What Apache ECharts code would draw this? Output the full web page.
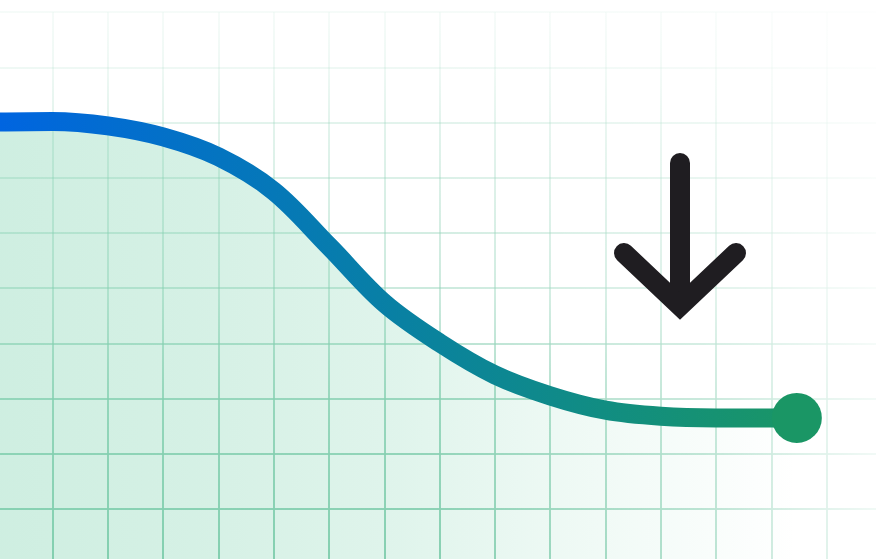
<!DOCTYPE html>
<html>
<head>
<meta charset="utf-8">
<script src="https://cdn.jsdelivr.net/npm/echarts@6/dist/echarts.min.js"></script>
<style>
  html, body { margin: 0; padding: 0; background: #fff; overflow: hidden; width: 876px; height: 559px; }
  /* chart is a bit wider/taller than the window so the grid cells line up with the edges */
  #chart { position: absolute; left: -3px; top: 0; width: 885px; height: 565px; }
</style>
</head>
<body>
<div id="chart"></div>
<script>
// curve values (grid units: one cell = 1)
const xValues = [0, 1, 2, 3, 4, 5, 6, 7, 8, 9, 10, 11, 12, 13, 14.46];
const yValues = [8.01, 8.02, 7.94, 7.74, 7.38, 6.76, 5.76, 4.73, 4.01, 3.43, 3.05, 2.79, 2.68, 2.65, 2.65];
const xRange = [0, 16];
const yRange = [0, 10];

const points = xValues.map(function (x, i) {
  const last = i === xValues.length - 1;
  return last
    ? { value: [x, yValues[i]], symbol: 'circle', symbolSize: 50, itemStyle: { color: '#1a9665' } }
    : { value: [x, yValues[i]], symbol: 'none' };
});

const G = echarts.graphic;
const gridLineColor = new G.LinearGradient(0, 0, 0, 565, [
  { offset: 0, color: 'rgba(140,208,180,0.07)' },
  { offset: 0.12, color: 'rgba(140,208,180,0.14)' },
  { offset: 0.22, color: 'rgba(140,208,180,0.25)' },
  { offset: 0.52, color: 'rgba(140,208,180,0.45)' },
  { offset: 0.72, color: 'rgba(140,208,180,0.8)' },
  { offset: 1, color: 'rgba(140,208,180,1)' }
], true);

const chart = echarts.init(document.getElementById('chart'), null, { renderer: 'canvas' });
chart.setOption({
  animation: false,
  backgroundColor: '#ffffff',
  grid: { left: 0.2, right: 0, top: 12.2, bottom: 0.8 },
  xAxis: {
    type: 'value', min: xRange[0], max: xRange[1], interval: 1,
    axisLine: { show: false }, axisTick: { show: false }, axisLabel: { show: false },
    splitLine: { show: true, lineStyle: { color: gridLineColor, width: 2 } }
  },
  yAxis: {
    type: 'value', min: yRange[0], max: yRange[1], interval: 1,
    axisLine: { show: false }, axisTick: { show: false }, axisLabel: { show: false },
    splitLine: { show: true, lineStyle: { color: gridLineColor, width: 2 } }
  },
  graphic: [
    {
      type: 'rect', z: 1, silent: true,
      shape: { x: 433, y: 0, width: 452, height: 565 },
      style: {
        fill: new G.LinearGradient(0, 0, 1, 0, [
          { offset: 0, color: 'rgba(255,255,255,0)' },
          { offset: 0.6, color: 'rgba(255,255,255,0.4)' },
          { offset: 1, color: 'rgba(255,255,255,0.88)' }
        ])
      }
    },
    {
      type: 'polyline', z: 10, silent: true,
      shape: { points: [[683, 163], [683, 302]] },
      style: { stroke: '#1f1d21', lineWidth: 20, lineCap: 'round', fill: null }
    },
    {
      type: 'polyline', z: 10, silent: true,
      shape: { points: [[627, 253], [683, 306], [739, 253]] },
      style: { stroke: '#1f1d21', lineWidth: 20, lineCap: 'round', lineJoin: 'miter', fill: null }
    }
  ],
  series: [{
    type: 'line',
    data: points,
    smooth: 0.35,
    symbol: 'none',
    showSymbol: true,
    z: 2,
    lineStyle: {
      width: 19,
      cap: 'butt',
      color: new G.LinearGradient(0, 0, 1, 0, [
        { offset: 0, color: '#0064e2' },
        { offset: 0.35, color: '#0578b8' },
        { offset: 0.55, color: '#0a839c' },
        { offset: 0.75, color: '#118d82' },
        { offset: 1, color: '#1a9665' }
      ])
    },
    areaStyle: {
      origin: 'start',
      color: new G.LinearGradient(0, 0, 1, 0, [
        { offset: 0, color: 'rgba(110,205,165,0.48)' },
        { offset: 0.25, color: 'rgba(110,205,165,0.41)' },
        { offset: 0.5, color: 'rgba(110,205,165,0.31)' },
        { offset: 0.69, color: 'rgba(110,205,165,0.18)' },
        { offset: 0.875, color: 'rgba(110,205,165,0.07)' },
        { offset: 1, color: 'rgba(110,205,165,0)' }
      ])
    },
    emphasis: { disabled: true }
  }]
});
</script>
</body>
</html>
